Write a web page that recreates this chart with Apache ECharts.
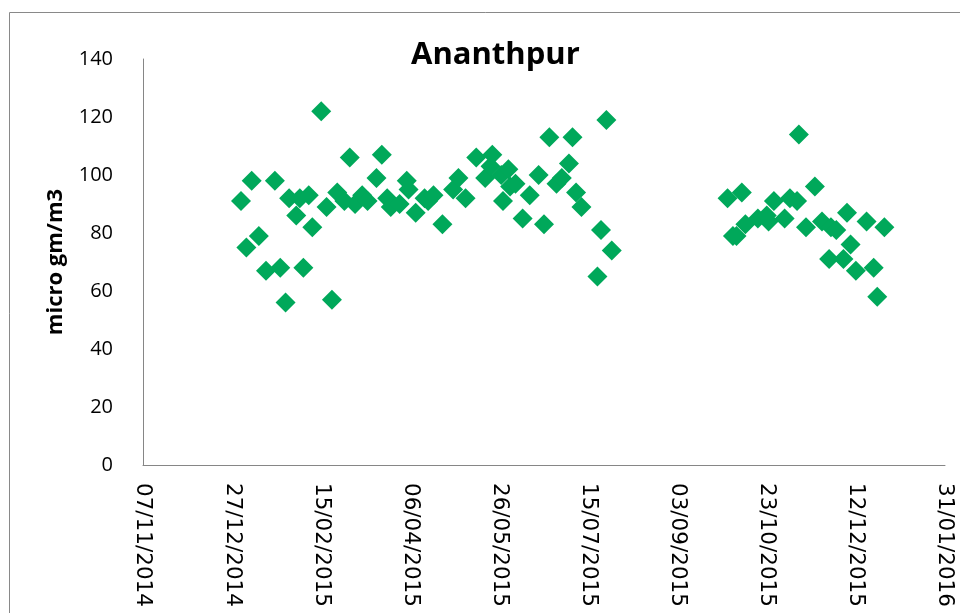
<!DOCTYPE html>
<html>
<head>
<meta charset="utf-8">
<script src="https://cdn.jsdelivr.net/npm/echarts@6/dist/echarts.min.js"></script>
<style>
  html, body { margin: 0; padding: 0; background: #fff; }
  #chart { width: 960px; height: 613px; }
</style>
</head>
<body>
<div id="chart"></div>
<script>
// sample dates (dd/mm) and PM values
const dates = [
  '2015-01-01', '2015-01-04', '2015-01-07', '2015-01-11', '2015-01-15', '2015-01-20', '2015-01-23', '2015-01-26',
  '2015-01-28', '2015-02-01', '2015-02-03', '2015-02-05', '2015-02-08', '2015-02-10', '2015-02-15', '2015-02-18',
  '2015-02-21', '2015-02-24', '2015-02-28', '2015-03-03', '2015-03-06', '2015-03-10', '2015-03-13', '2015-03-18',
  '2015-03-21', '2015-03-24', '2015-03-26', '2015-03-31', '2015-04-04', '2015-04-05', '2015-04-09', '2015-04-14',
  '2015-04-16', '2015-04-19', '2015-04-24', '2015-04-30', '2015-05-03', '2015-05-07', '2015-05-13', '2015-05-18',
  '2015-05-21', '2015-05-22', '2015-05-27', '2015-05-28', '2015-05-31', '2015-06-01', '2015-06-04', '2015-06-08',
  '2015-06-12', '2015-06-17', '2015-06-20', '2015-06-23', '2015-06-27', '2015-06-30', '2015-07-04', '2015-07-06',
  '2015-07-08', '2015-07-11', '2015-07-20', '2015-07-22', '2015-07-25', '2015-07-28',
  '2015-10-01', '2015-10-04', '2015-10-06', '2015-10-09', '2015-10-11', '2015-10-18', '2015-10-23', '2015-10-24',
  '2015-10-27', '2015-11-02', '2015-11-05', '2015-11-09', '2015-11-10', '2015-11-14', '2015-11-19', '2015-11-23',
  '2015-11-27', '2015-11-28', '2015-12-01', '2015-12-05', '2015-12-07', '2015-12-09', '2015-12-12', '2015-12-18',
  '2015-12-22', '2015-12-24', '2015-12-28'
]
const values = [
  91, 75, 98, 79, 67, 98, 68, 56,
  92, 86, 92, 68, 93, 82, 122, 89,
  57, 94, 91, 106, 90, 93, 91, 99,
  107, 92, 89, 90, 98, 95, 87, 92,
  91, 93, 83, 95, 99, 92, 106, 99,
  103, 107, 100, 91, 102, 96, 97, 85,
  93, 100, 83, 113, 97, 99, 104, 113,
  94, 89, 65, 81, 119, 74,
  92, 79, 79, 94, 83, 85, 86, 84,
  91, 85, 92, 91, 114, 82, 96, 84,
  71, 82, 81, 71, 87, 76, 67, 84,
  68, 58, 82
]
// x axis ticks: every 50 days from 07/11/2014
const startDate = '2014-11-07'
const tickDays = [0, 50, 100, 150, 200, 250, 300, 350, 400, 450]
const yTicks = [0, 20, 40, 60, 80, 100, 120, 140]

const DAY = 86400000
const t0 = Date.parse(startDate)
const dayOf = d => Math.round((Date.parse(d) - t0) / DAY)
const pad = n => (n < 10 ? '0' : '') + n
const fmtDay = v => {
  const d = new Date(t0 + v * DAY)
  return pad(d.getUTCDate()) + '/' + pad(d.getUTCMonth() + 1) + '/' + d.getUTCFullYear()
}

const points = dates.map((d, i) => [dayOf(d), values[i]])

const option = {
  animation: false,
  title: {
    text: 'Ananthpur',
    left: 406,
    top: 35,
    textStyle: { fontFamily: 'Open Sans', fontWeight: 'bold', fontSize: 31, color: '#000' }
  },
  graphic: [{
    type: 'rect',
    shape: { x: 9.5, y: 12.5, width: 1000, height: 700 },
    style: { fill: 'none', stroke: '#898989', lineWidth: 1 },
    silent: true
  }],
  grid: { left: 143, right: 15, top: 59, bottom: 148 },
  xAxis: {
    type: 'value',
    min: tickDays[0],
    max: tickDays[tickDays.length - 1],
    interval: 50,
    axisLine: { lineStyle: { color: '#868686' } },
    axisTick: { show: false },
    splitLine: { show: false },
    axisLabel: {
      rotate: -90,
      margin: 18,
      fontFamily: 'DejaVu Sans',
      fontSize: 21.5,
      color: '#000',
      formatter: fmtDay
    }
  },
  yAxis: {
    type: 'value',
    min: yTicks[0],
    max: yTicks[yTicks.length - 1],
    interval: 20,
    name: 'micro gm/m3',
    nameLocation: 'middle',
    nameGap: 76,
    nameTextStyle: { fontFamily: 'Open Sans', fontWeight: 'bold', fontSize: 22, color: '#000' },
    axisLine: { show: true, lineStyle: { color: '#868686' } },
    axisTick: { show: false },
    splitLine: { show: false },
    axisLabel: { margin: 30, fontFamily: 'Open Sans', fontSize: 20, color: '#000' }
  },
  series: [{
    type: 'scatter',
    symbol: 'diamond',
    symbolSize: 20,
    itemStyle: { color: '#00A85A', opacity: 1 },
    data: points
  }]
}

const myChart = echarts.init(document.getElementById('chart'))
myChart.setOption(option)
</script>
</body>
</html>
